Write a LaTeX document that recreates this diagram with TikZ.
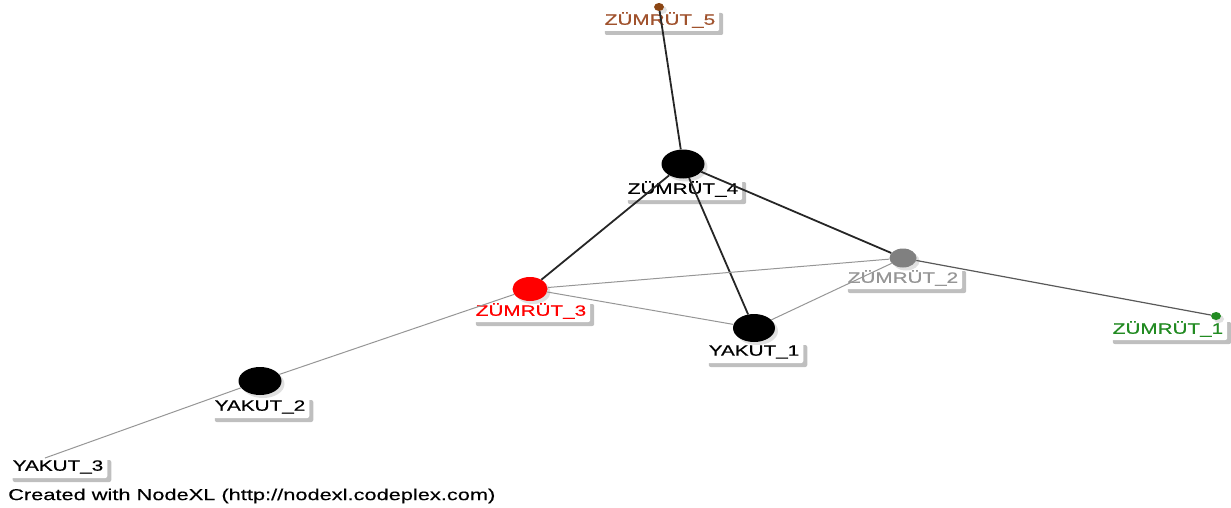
\documentclass[tikz,border=0pt]{standalone}
\usepackage{fontspec}
\setmainfont{Liberation Sans}
\newfontfamily\labfont[FakeStretch=1.38,FakeBold=0.6]{Liberation Sans}
\newfontfamily\capfont[FakeStretch=1.38,FakeBold=0.3]{Liberation Sans}
\usetikzlibrary{shapes.geometric,shadows}
\definecolor{zbrown}{RGB}{139,69,19}
\definecolor{zbrowntext}{RGB}{160,82,45}
\definecolor{zgreen}{RGB}{34,139,34}
\definecolor{zgraydot}{RGB}{128,128,128}
\definecolor{zgraytext}{RGB}{150,150,150}
\definecolor{thinedge}{RGB}{150,150,150}
\tikzset{
  lab/.style={rectangle, rounded corners=2pt, fill=white, inner xsep=4pt, inner ysep=0pt,
    minimum height=22pt, font=\labfont\fontsize{15}{17}\selectfont,
    drop shadow={shadow xshift=4pt, shadow yshift=-4pt, fill=black!50, opacity=0.5}},
  dot/.style={ellipse, inner sep=0pt,
    drop shadow={shadow xshift=3pt, shadow yshift=-3pt, fill=black!40, opacity=0.3}},
  strong/.style={draw=black!85, line width=1.8pt},
  mid/.style={draw=black!65, line width=1.2pt},
  weak/.style={draw=thinedge, line width=1pt},
}
\begin{document}
\begin{tikzpicture}[x=1pt,y=-1pt]
\useasboundingbox (0,0) rectangle (1231,508);
% labels
\node[lab, text=zbrowntext] (z5l) at (660,20) {ZÜMRÜT\_5};
\node[lab, text=black] (z4l) at (683,189) {ZÜMRÜT\_4};
\node[lab, text=red] (z3l) at (531,311) {ZÜMRÜT\_3};
\node[lab, text=zgraytext] (z2l) at (903,278) {ZÜMRÜT\_2};
\node[lab, text=zgreen] (z1l) at (1168,329) {ZÜMRÜT\_1};
\node[lab, text=black] (y1l) at (754,352) {YAKUT\_1};
\node[lab, text=black] (y2l) at (260,407) {YAKUT\_2};
\node[lab, text=black] (y3l) at (58,467) {YAKUT\_3};
% dots
\node[dot, fill=zbrown, minimum width=10pt, minimum height=8pt] (z5) at (659,7) {};
\node[dot, fill=black, minimum width=43pt, minimum height=29pt] (z4) at (683,164) {};
\node[dot, fill=red, minimum width=35pt, minimum height=24pt] (z3) at (530,289) {};
\node[dot, fill=zgraydot, minimum width=27pt, minimum height=19pt] (z2) at (903,258) {};
\node[dot, fill=zgreen, minimum width=10pt, minimum height=8pt] (z1) at (1216,316) {};
\node[dot, fill=black, minimum width=42pt, minimum height=28pt] (y1) at (754,328) {};
\node[dot, fill=black, minimum width=43pt, minimum height=28pt] (y2) at (260,381) {};
\coordinate (y3) at (45,458);
% edges
\draw[strong] (z5) -- (z4);
\draw[strong] (z4) -- (z3);
\draw[strong] (z4) -- (y1);
\draw[strong] (z4) -- (z2);
\draw[mid] (z2) -- (z1);
\draw[weak] (z3) -- (z2);
\draw[weak] (z3) -- (y1);
\draw[weak] (y1) -- (z2);
\draw[weak] (z3) -- (y2);
\draw[weak] (y2) -- (y3);
% caption
\node[anchor=west, inner sep=0pt, font=\capfont\fontsize{15.8}{18}\selectfont] (cap) at (8,496) {Created with NodeXL (http://nodexl.codeplex.com)};
\end{tikzpicture}
\end{document}
